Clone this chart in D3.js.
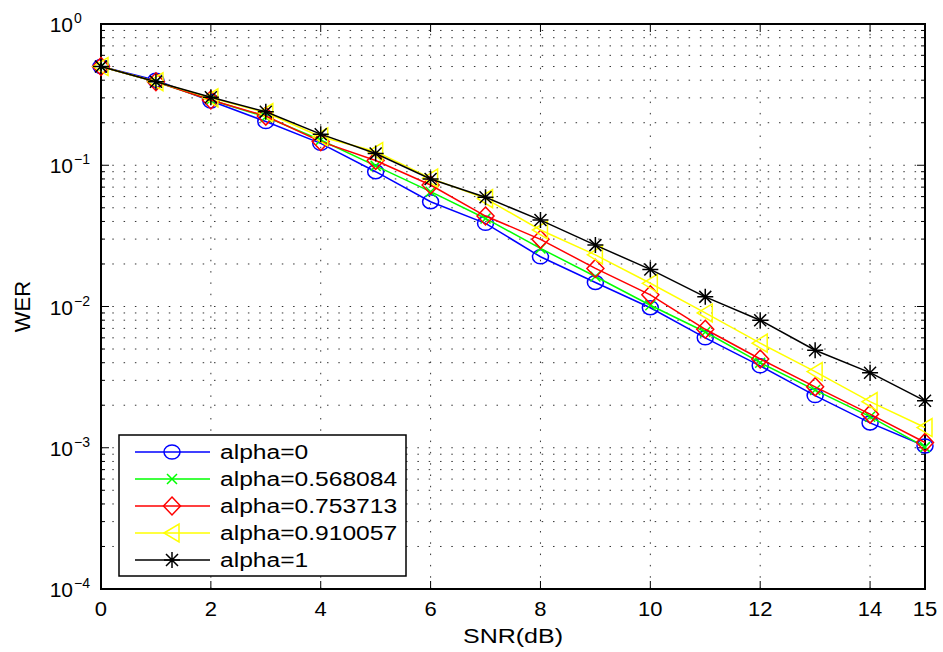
<!DOCTYPE html>
<html><head><meta charset="utf-8">
<script src="https://cdn.jsdelivr.net/npm/d3@7"></script>
<style>body{margin:0;background:#fff}svg{display:block}text{font-family:"Liberation Sans",Arial,sans-serif;fill:#000}</style>
</head><body><svg id="c" width="943" height="652"></svg>
<script>
const snr = [0,1,2,3,4,5,6,7,8,9,10,11,12,13,14,15];
const labels = ["alpha=0","alpha=0.568084","alpha=0.753713","alpha=0.910057","alpha=1"];
const wer0    = [0.50,0.40,0.285,0.204,0.143,0.090,0.0552,0.0388,0.0225,0.0148,0.0098,0.0060,0.0038,0.00234,0.00150,0.00103];
const wer0568 = [0.50,0.39,0.29,0.22,0.151,0.099,0.065,0.042,0.0258,0.0163,0.0102,0.0066,0.0040,0.00256,0.00166,0.00101];
const wer0754 = [0.50,0.39,0.29,0.223,0.147,0.108,0.0725,0.0437,0.0299,0.0186,0.0121,0.0069,0.00425,0.0027,0.00173,0.00109];
const wer0910 = [0.50,0.39,0.30,0.236,0.159,0.125,0.081,0.058,0.0348,0.0232,0.0146,0.0090,0.0055,0.00346,0.00212,0.00139];
const wer1    = [0.50,0.39,0.303,0.239,0.166,0.121,0.080,0.0593,0.0409,0.0272,0.0183,0.0117,0.0080,0.0049,0.0034,0.00215];
const xTicks = [0,2,4,6,8,10,12,14,15];
const yExps = [0,-1,-2,-3,-4];

const series = [wer0,wer0568,wer0754,wer0910,wer1];
const colors = ["#0000ff","#00ff00","#ff0000","#ffff00","#000000"];
const markers = ["circle","x","diamond","triangle","star"];

const L=101,R=925,T=24,B=589;
const svg=d3.select("#c");
const x=d3.scaleLinear().domain([0,15]).range([L,R]);
const y=d3.scaleLog().domain([1e-4,1]).range([B,T]);

// grid
const g=svg.append("g");
const minorVals=[];
for(let e=-4;e<0;e++){for(let m=1;m<=9;m++){minorVals.push(m*Math.pow(10,e));}}
minorVals.filter(v=>v>1e-4*1.01).forEach(v=>{
  g.append("line").attr("x1",L).attr("x2",R).attr("y1",y(v)).attr("y2",y(v))
   .attr("stroke","#333").attr("stroke-width",1).attr("stroke-dasharray","1.5,9.8");
});
xTicks.filter(t=>t>0&&t<15).forEach(t=>{
  g.append("line").attr("x1",x(t)).attr("x2",x(t)).attr("y1",B).attr("y2",T)
   .attr("stroke","#333").attr("stroke-width",1).attr("stroke-dasharray","1.5,9.8");
});

// ticks
const tk=svg.append("g").attr("stroke","#000").attr("stroke-width",1);
minorVals.forEach(v=>{
  const major=Math.abs(Math.log10(v)-Math.round(Math.log10(v)))<1e-9;
  const len=major?8:4;
  tk.append("line").attr("x1",L).attr("x2",L+len).attr("y1",y(v)).attr("y2",y(v));
  tk.append("line").attr("x1",R).attr("x2",R-len).attr("y1",y(v)).attr("y2",y(v));
});
[1].forEach(v=>{
  tk.append("line").attr("x1",L).attr("x2",L+8).attr("y1",y(v)).attr("y2",y(v));
  tk.append("line").attr("x1",R).attr("x2",R-8).attr("y1",y(v)).attr("y2",y(v));
});
xTicks.forEach(t=>{
  tk.append("line").attr("x1",x(t)).attr("x2",x(t)).attr("y1",B).attr("y2",B-8);
  tk.append("line").attr("x1",x(t)).attr("x2",x(t)).attr("y1",T).attr("y2",T+8);
});

// box
svg.append("rect").attr("x",L).attr("y",T).attr("width",R-L).attr("height",B-T)
  .attr("fill","none").attr("stroke","#000").attr("stroke-width",2);

function stretch(sel,f){sel.each(function(){const w=this.getComputedTextLength();d3.select(this).attr("textLength",w*f).attr("lengthAdjust","spacingAndGlyphs");});}

// x tick labels
const xl=svg.append("g").selectAll("text").data(xTicks).join("text")
  .attr("x",d=>x(d)).attr("y",B+27).attr("text-anchor","middle").attr("font-size",20).text(d=>d);
stretch(xl,1.1);

// y tick labels
yExps.forEach(e=>{
  const yy=y(Math.pow(10,e));
  svg.append("text").attr("x",73).attr("y",yy+8).attr("text-anchor","end").attr("font-size",21).text("10");
  svg.append("text").attr("x",74).attr("y",yy-1).attr("font-size",14).text(e===0?"0":"\u2212"+(-e));
});

// axis labels
const xlab=svg.append("text").attr("x",(L+R)/2).attr("y",643).attr("text-anchor","middle").attr("font-size",20).text("SNR(dB)");
stretch(xlab,1.25);
svg.append("text").attr("transform","translate(30,"+((T+B)/2)+") rotate(-90)").attr("text-anchor","middle").attr("font-size",22).text("WER");

function drawMarker(sel,type,color){
  if(type==="circle"){sel.append("ellipse").attr("rx",8).attr("ry",7).attr("fill","none").attr("stroke",color).attr("stroke-width",1.5);}
  else if(type==="x"){sel.append("path").attr("d","M-5,-5L5,5M-5,5L5,-5").attr("stroke",color).attr("stroke-width",1.5).attr("fill","none");}
  else if(type==="diamond"){sel.append("path").attr("d","M0,-9L8.5,0L0,9L-8.5,0Z").attr("stroke",color).attr("stroke-width",1.5).attr("fill","none");}
  else if(type==="triangle"){sel.append("path").attr("d","M-8,0L7,-9L7,9Z").attr("stroke",color).attr("stroke-width",1.5).attr("fill","none");}
  else if(type==="star"){sel.append("path").attr("d","M-8,0L8,0M0,-8L0,8M-6,-6L6,6M-6,6L6,-6").attr("stroke",color).attr("stroke-width",1.5).attr("fill","none");}
}

const line=d3.line().x((d,i)=>x(snr[i])).y(d=>y(d));
series.forEach((s,k)=>{
  svg.append("path").attr("d",line(s)).attr("fill","none").attr("stroke",colors[k]).attr("stroke-width",1.5);
  s.forEach((v,i)=>{
    const m=svg.append("g").attr("transform","translate("+x(snr[i])+","+y(v)+")");
    drawMarker(m,markers[k],colors[k]);
  });
});

// legend
const lg=svg.append("g");
lg.append("rect").attr("x",119).attr("y",435).attr("width",287).attr("height",141).attr("fill","#fff").attr("stroke","#000").attr("stroke-width",1.5);
labels.forEach((lab,k)=>{
  const yy=452+k*27;
  lg.append("line").attr("x1",135).attr("x2",210).attr("y1",yy).attr("y2",yy).attr("stroke",colors[k]).attr("stroke-width",1.5);
  const m=lg.append("g").attr("transform","translate(172,"+yy+")");
  drawMarker(m,markers[k],colors[k]);
  const t=lg.append("text").attr("x",220).attr("y",yy+7).attr("font-size",20).text(lab);
  stretch(t,1.23);
});
</script></body></html>
